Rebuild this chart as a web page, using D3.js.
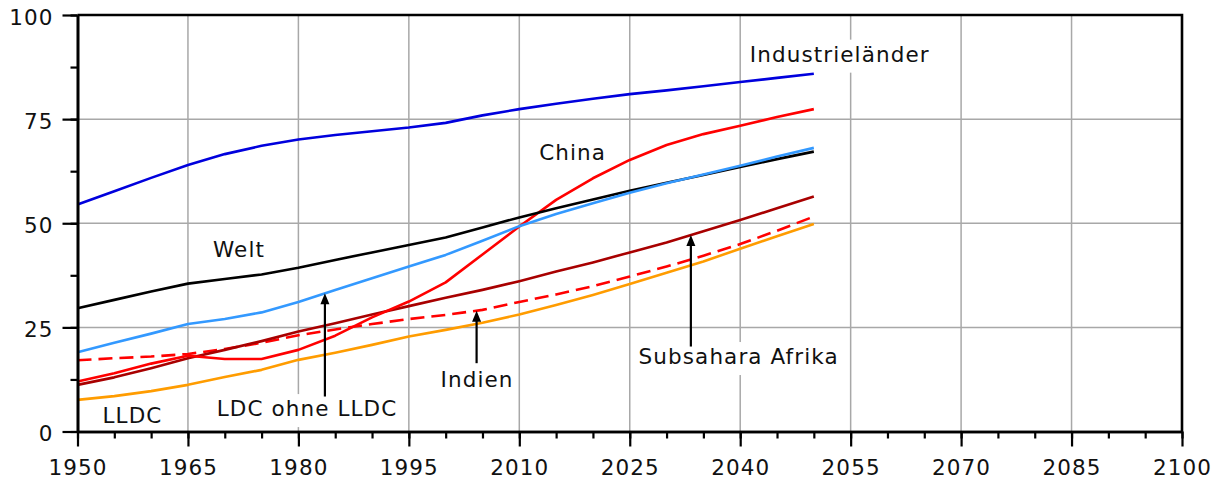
<!DOCTYPE html>
<html>
<head>
<meta charset="utf-8">
<script src="https://cdn.jsdelivr.net/npm/d3@7/dist/d3.min.js"></script>
<style>
  html, body { margin: 0; padding: 0; background: #fff; }
  svg { display: block; }
  text { font-family: "DejaVu Sans", Verdana, sans-serif; font-size: 21.5px; letter-spacing: 1.1px; fill: #111; }
</style>
</head>
<body>
<svg id="chart" width="1222" height="480"></svg>
<script>
// Urban population share (%), 1950–2050 in five-year steps
const years = d3.range(1950, 2051, 5);

const industrieLaender = [54.5, 57.7, 60.9, 64.0, 66.6, 68.6, 70.1, 71.2, 72.1, 73.0, 74.1, 75.9, 77.4, 78.7, 79.9, 81.0, 81.9, 82.9, 83.9, 84.9, 85.9];
const welt             = [29.6, 31.6, 33.6, 35.5, 36.6, 37.7, 39.3, 41.2, 43.0, 44.8, 46.6, 49.0, 51.4, 53.6, 55.7, 57.8, 59.7, 61.6, 63.5, 65.4, 67.2];
const ldcOhneLldc      = [19.0, 21.3, 23.5, 25.8, 27.0, 28.6, 31.1, 34.0, 36.8, 39.6, 42.4, 45.8, 49.3, 52.2, 54.8, 57.3, 59.6, 61.7, 63.8, 66.0, 68.1];
const china            = [12.0, 14.0, 16.3, 18.2, 17.4, 17.4, 19.6, 23.0, 27.4, 31.2, 35.8, 42.5, 49.2, 55.6, 60.8, 65.2, 68.8, 71.4, 73.4, 75.5, 77.4];
const subsahara        = [11.2, 13.0, 15.2, 17.6, 19.6, 21.7, 24.0, 26.0, 28.1, 30.1, 32.1, 34.0, 36.1, 38.4, 40.6, 43.0, 45.4, 48.1, 50.8, 53.6, 56.4];
const indien           = [17.1, 17.6, 18.0, 18.6, 19.8, 21.3, 23.1, 24.5, 25.8, 27.0, 28.0, 29.2, 31.1, 32.9, 34.9, 37.2, 39.6, 42.2, 45.0, 48.2, 51.6];
const lldc             = [7.6, 8.5, 9.7, 11.2, 13.1, 14.8, 17.2, 18.9, 20.8, 22.8, 24.4, 26.1, 28.1, 30.4, 32.8, 35.4, 38.1, 40.8, 43.9, 46.9, 49.8];

const xTicks = d3.range(1950, 2101, 15);
const xMinorTicks = d3.range(1950, 2101, 5);
const yTicks = [0, 25, 50, 75, 100];
const yMinorTicks = d3.range(0, 100.1, 12.5);

const series = [
  { name: "LLDC", values: lldc, color: "#ff9c00", dash: null },
  { name: "Indien", values: indien, color: "#ff0000", dash: "14,7" },
  { name: "Subsahara Afrika", values: subsahara, color: "#a80000", dash: null },
  { name: "China", values: china, color: "#ff0000", dash: null },
  { name: "Welt", values: welt, color: "#000000", dash: null },
  { name: "LDC ohne LLDC", values: ldcOhneLldc, color: "#3399ff", dash: null },
  { name: "Industrieländer", values: industrieLaender, color: "#0000dd", dash: null }
];

// Label anchors in data coordinates; arrows point from a label to its curve
const labels = [
  { text: "Industrieländer", year: 2041.3, value: 88.8 },
  { text: "China", year: 2012.7, value: 65.2 },
  { text: "Welt", year: 1968.4, value: 42.0 },
  { text: "LDC ohne LLDC", year: 1968.9, value: 3.7, arrowYear: 1983.6, arrowBase: 8.4, target: ldcOhneLldc },
  { text: "LLDC", year: 1953.4, value: 2.1 },
  { text: "Indien", year: 1999.3, value: 10.8, arrowYear: 2004.2, arrowBase: 16.4, target: indien },
  { text: "Subsahara Afrika", year: 2026.2, value: 16.2, arrowYear: 2033.3, arrowBase: 20.4, target: subsahara }
];

(function draw() {
  const svg = d3.select("#chart");
  const plotLeft = 77.5, plotRight = 1182, plotTop = 15, plotBottom = 431.5;

  const x = d3.scaleLinear().domain([1950, 2100]).range([plotLeft, plotRight]);
  const y = d3.scaleLinear().domain([0, 100]).range([plotBottom, plotTop]);

  // grid
  const grid = svg.append("g").attr("stroke", "#a8a8a8").attr("stroke-width", 1.5);
  grid.selectAll("line.v").data(xTicks.filter(d => d > 1950 && d < 2100)).join("line").attr("class", "v")
    .attr("x1", d => x(d)).attr("x2", d => x(d)).attr("y1", plotTop).attr("y2", plotBottom);
  grid.selectAll("line.h").data(yTicks.filter(d => d > 0 && d < 100)).join("line").attr("class", "h")
    .attr("x1", plotLeft).attr("x2", plotRight).attr("y1", d => y(d)).attr("y2", d => y(d));

  // label backgrounds + text
  const labelG = svg.append("g");
  labels.forEach(l => {
    const t = labelG.append("text").attr("x", x(l.year)).attr("y", y(l.value)).text(l.text);
    const b = t.node().getBBox();
    labelG.insert("rect", "text")
      .attr("x", b.x - 4).attr("y", b.y - 2).attr("width", b.width + 8).attr("height", b.height + 8)
      .attr("fill", "#fff");
  });

  // curves
  const line = d3.line().x((d, i) => x(years[i])).y(d => y(d));
  svg.append("g").selectAll("path").data(series).join("path")
    .attr("d", d => line(d.values))
    .attr("fill", "none")
    .attr("stroke", d => d.color)
    .attr("stroke-width", 2.6)
    .attr("stroke-dasharray", d => d.dash)
    .attr("stroke-linejoin", "round");

  // arrows
  function valueAt(arr, yr) {
    const i = Math.min(Math.floor((yr - 1950) / 5), arr.length - 2);
    const f = (yr - years[i]) / 5;
    return arr[i] + (arr[i + 1] - arr[i]) * f;
  }
  const arrowG = svg.append("g");
  labels.filter(l => l.arrowYear).forEach(l => {
    const ax = x(l.arrowYear);
    const tipY = y(valueAt(l.target, l.arrowYear));
    const baseY = y(l.arrowBase);
    const headLen = 11, headHalf = 4.5;
    arrowG.append("line").attr("x1", ax).attr("x2", ax).attr("y1", baseY).attr("y2", tipY + headLen - 1)
      .attr("stroke", "#000").attr("stroke-width", 2.2);
    arrowG.append("path")
      .attr("d", `M${ax},${tipY} L${ax - headHalf},${tipY + headLen} L${ax + headHalf},${tipY + headLen} Z`)
      .attr("fill", "#000");
  });

  // axes
  const axisStyle = g => {
    g.select(".domain").attr("stroke", "#000").attr("stroke-width", 2.6);
    g.selectAll(".tick line").attr("stroke", "#000").attr("stroke-width", 2.2);
    g.selectAll("text").attr("fill", "#111").attr("font-size", null).attr("font-family", null);
  };

  svg.append("g").attr("transform", `translate(0,${plotBottom})`)
    .call(d3.axisBottom(x).tickValues(xMinorTicks).tickSize(7).tickSizeOuter(0).tickFormat(""))
    .call(axisStyle);
  svg.append("g").attr("transform", `translate(0,${plotBottom})`)
    .call(d3.axisBottom(x).tickValues(xTicks).tickSize(15).tickPadding(13).tickSizeOuter(0).tickFormat(d3.format("d")))
    .call(axisStyle);

  svg.append("g").attr("transform", `translate(${plotLeft},0)`)
    .call(d3.axisLeft(y).tickValues(yMinorTicks).tickSize(7).tickSizeOuter(0).tickFormat(""))
    .call(axisStyle);
  svg.append("g").attr("transform", `translate(${plotLeft},0)`)
    .call(d3.axisLeft(y).tickValues(yTicks).tickSize(15).tickPadding(9).tickSizeOuter(0).tickFormat(d3.format("d")))
    .call(axisStyle)
    .call(g => g.selectAll("text").attr("dy", "0.42em"));

  // frame on top and right
  svg.append("path")
    .attr("d", `M${plotLeft},${plotTop} H${plotRight} V${plotBottom}`)
    .attr("fill", "none").attr("stroke", "#000").attr("stroke-width", 2.6);
})();
</script>
</body>
</html>
